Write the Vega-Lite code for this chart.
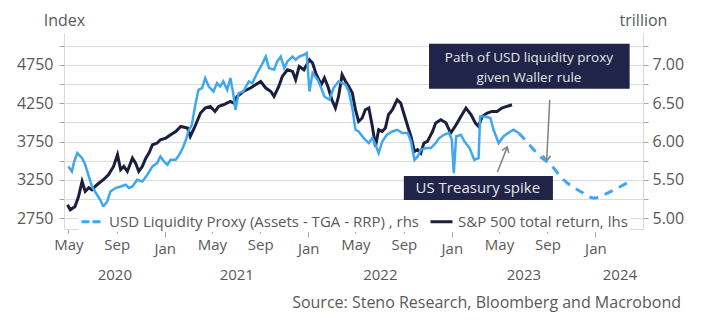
{
  "$schema": "https://vega.github.io/schema/vega-lite/v6.json",
  "width": 579,
  "height": 196,
  "autosize": {"type": "none"},
  "padding": {"left": 64, "top": 33, "right": 61, "bottom": 102},
  "background": "white",
  "config": {
    "view": {"stroke": null},
    "font": "Open Sans",
    "axis": {"labelFont": "Open Sans", "titleFont": "Open Sans"}
  },
  "title": {
    "text": "Source: Steno Research, Bloomberg and Macrobond",
    "orient": "bottom",
    "anchor": "end",
    "frame": "group",
    "dx": 38,
    "offset": 13,
    "fontSize": 16,
    "fontWeight": "normal",
    "color": "#595959",
    "font": "Open Sans"
  },
  "datasets": {
    "sp": [
      {"d": "2020-04-29", "v": 2926}, {"d": "2020-05-06", "v": 2861}, {"d": "2020-05-18", "v": 2904},
      {"d": "2020-05-27", "v": 3034}, {"d": "2020-06-05", "v": 3229}, {"d": "2020-06-13", "v": 3099},
      {"d": "2020-06-22", "v": 3147}, {"d": "2020-06-30", "v": 3121}, {"d": "2020-07-13", "v": 3187},
      {"d": "2020-07-29", "v": 3252}, {"d": "2020-08-11", "v": 3317}, {"d": "2020-08-24", "v": 3425},
      {"d": "2020-09-03", "v": 3577}, {"d": "2020-09-11", "v": 3382}, {"d": "2020-09-19", "v": 3425},
      {"d": "2020-09-28", "v": 3360}, {"d": "2020-10-11", "v": 3534}, {"d": "2020-10-19", "v": 3469},
      {"d": "2020-10-27", "v": 3360}, {"d": "2020-11-05", "v": 3425}, {"d": "2020-11-14", "v": 3534},
      {"d": "2020-11-22", "v": 3600}, {"d": "2020-12-01", "v": 3708}, {"d": "2020-12-13", "v": 3730},
      {"d": "2020-12-21", "v": 3773}, {"d": "2021-01-04", "v": 3795}, {"d": "2021-01-16", "v": 3838},
      {"d": "2021-01-29", "v": 3881}, {"d": "2021-02-11", "v": 3946}, {"d": "2021-02-28", "v": 3925},
      {"d": "2021-03-07", "v": 3816}, {"d": "2021-03-19", "v": 3946}, {"d": "2021-04-02", "v": 4121},
      {"d": "2021-04-14", "v": 4186}, {"d": "2021-04-27", "v": 4207}, {"d": "2021-05-09", "v": 4142},
      {"d": "2021-05-18", "v": 4207}, {"d": "2021-05-30", "v": 4229}, {"d": "2021-06-17", "v": 4272},
      {"d": "2021-06-25", "v": 4251}, {"d": "2021-07-04", "v": 4337}, {"d": "2021-07-20", "v": 4402},
      {"d": "2021-08-07", "v": 4447}, {"d": "2021-08-20", "v": 4490}, {"d": "2021-09-02", "v": 4532},
      {"d": "2021-09-15", "v": 4447}, {"d": "2021-09-28", "v": 4402}, {"d": "2021-10-06", "v": 4337},
      {"d": "2021-10-18", "v": 4467}, {"d": "2021-10-27", "v": 4598}, {"d": "2021-11-09", "v": 4685},
      {"d": "2021-11-22", "v": 4663}, {"d": "2021-11-30", "v": 4555}, {"d": "2021-12-09", "v": 4728},
      {"d": "2021-12-21", "v": 4685}, {"d": "2022-01-04", "v": 4815}, {"d": "2022-01-12", "v": 4772},
      {"d": "2022-01-20", "v": 4642}, {"d": "2022-02-03", "v": 4490}, {"d": "2022-02-11", "v": 4577},
      {"d": "2022-02-20", "v": 4467}, {"d": "2022-03-02", "v": 4294}, {"d": "2022-03-11", "v": 4186},
      {"d": "2022-03-19", "v": 4337}, {"d": "2022-03-28", "v": 4620}, {"d": "2022-04-06", "v": 4532},
      {"d": "2022-04-14", "v": 4467}, {"d": "2022-04-23", "v": 4381}, {"d": "2022-05-01", "v": 4164},
      {"d": "2022-05-09", "v": 4011}, {"d": "2022-05-18", "v": 4056}, {"d": "2022-05-26", "v": 4164},
      {"d": "2022-06-04", "v": 4186}, {"d": "2022-06-13", "v": 3946}, {"d": "2022-06-21", "v": 3686},
      {"d": "2022-06-29", "v": 3903}, {"d": "2022-07-08", "v": 3881}, {"d": "2022-07-16", "v": 3925},
      {"d": "2022-07-24", "v": 4099}, {"d": "2022-08-03", "v": 4164}, {"d": "2022-08-15", "v": 4294},
      {"d": "2022-08-24", "v": 4251}, {"d": "2022-09-02", "v": 4099}, {"d": "2022-09-11", "v": 3946},
      {"d": "2022-09-19", "v": 3816}, {"d": "2022-09-28", "v": 3620}, {"d": "2022-10-06", "v": 3643},
      {"d": "2022-10-14", "v": 3600}, {"d": "2022-10-22", "v": 3730}, {"d": "2022-10-31", "v": 3751},
      {"d": "2022-11-13", "v": 3881}, {"d": "2022-11-21", "v": 3990}, {"d": "2022-12-04", "v": 4033},
      {"d": "2022-12-17", "v": 3994}, {"d": "2022-12-29", "v": 3860}, {"d": "2023-01-12", "v": 3968},
      {"d": "2023-01-24", "v": 4076}, {"d": "2023-02-06", "v": 4186}, {"d": "2023-02-19", "v": 4099},
      {"d": "2023-03-02", "v": 3990}, {"d": "2023-03-10", "v": 3946}, {"d": "2023-03-19", "v": 4076},
      {"d": "2023-04-01", "v": 4121}, {"d": "2023-04-13", "v": 4142}, {"d": "2023-04-26", "v": 4142},
      {"d": "2023-05-08", "v": 4186}, {"d": "2023-05-21", "v": 4207}, {"d": "2023-06-03", "v": 4229}
    ],
    "liq": [
      {"d": "2020-05-01", "r": 5.675}, {"d": "2020-05-10", "r": 5.610}, {"d": "2020-05-16", "r": 5.740},
      {"d": "2020-05-24", "r": 5.850}, {"d": "2020-06-05", "r": 5.784}, {"d": "2020-06-13", "r": 5.697},
      {"d": "2020-06-22", "r": 5.545}, {"d": "2020-06-30", "r": 5.414}, {"d": "2020-07-13", "r": 5.306},
      {"d": "2020-07-21", "r": 5.241}, {"d": "2020-07-29", "r": 5.154}, {"d": "2020-08-08", "r": 5.219},
      {"d": "2020-08-16", "r": 5.349}, {"d": "2020-08-29", "r": 5.394}, {"d": "2020-09-11", "r": 5.414},
      {"d": "2020-09-24", "r": 5.437}, {"d": "2020-10-02", "r": 5.394}, {"d": "2020-10-11", "r": 5.414},
      {"d": "2020-10-23", "r": 5.502}, {"d": "2020-11-05", "r": 5.480}, {"d": "2020-11-18", "r": 5.567},
      {"d": "2020-12-01", "r": 5.675}, {"d": "2020-12-13", "r": 5.719}, {"d": "2020-12-21", "r": 5.805},
      {"d": "2020-12-30", "r": 5.740}, {"d": "2021-01-08", "r": 5.697}, {"d": "2021-01-16", "r": 5.762},
      {"d": "2021-01-29", "r": 5.762}, {"d": "2021-02-07", "r": 5.827}, {"d": "2021-02-16", "r": 5.915},
      {"d": "2021-02-24", "r": 6.023}, {"d": "2021-03-02", "r": 6.131}, {"d": "2021-03-11", "r": 6.218},
      {"d": "2021-03-19", "r": 6.457}, {"d": "2021-03-28", "r": 6.674}, {"d": "2021-04-06", "r": 6.697},
      {"d": "2021-04-14", "r": 6.827}, {"d": "2021-04-23", "r": 6.717}, {"d": "2021-05-05", "r": 6.652},
      {"d": "2021-05-14", "r": 6.762}, {"d": "2021-05-22", "r": 6.717}, {"d": "2021-05-30", "r": 6.783},
      {"d": "2021-06-09", "r": 6.674}, {"d": "2021-06-17", "r": 6.827}, {"d": "2021-06-24", "r": 6.631},
      {"d": "2021-06-30", "r": 6.414}, {"d": "2021-07-08", "r": 6.631}, {"d": "2021-07-20", "r": 6.652},
      {"d": "2021-08-03", "r": 6.783}, {"d": "2021-08-12", "r": 6.762}, {"d": "2021-08-24", "r": 6.892},
      {"d": "2021-09-07", "r": 7.022}, {"d": "2021-09-15", "r": 7.108}, {"d": "2021-09-23", "r": 6.957},
      {"d": "2021-10-06", "r": 6.935}, {"d": "2021-10-14", "r": 7.043}, {"d": "2021-10-23", "r": 7.108},
      {"d": "2021-11-01", "r": 6.957}, {"d": "2021-11-09", "r": 7.043}, {"d": "2021-11-22", "r": 7.108},
      {"d": "2021-11-30", "r": 7.065}, {"d": "2021-12-09", "r": 7.108}, {"d": "2021-12-21", "r": 7.130},
      {"d": "2021-12-28", "r": 7.153}, {"d": "2022-01-04", "r": 6.652}, {"d": "2022-01-12", "r": 6.892},
      {"d": "2022-01-25", "r": 6.805}, {"d": "2022-02-03", "r": 6.697}, {"d": "2022-02-11", "r": 6.587},
      {"d": "2022-02-24", "r": 6.544}, {"d": "2022-03-06", "r": 6.697}, {"d": "2022-03-19", "r": 6.783},
      {"d": "2022-03-28", "r": 6.762}, {"d": "2022-04-06", "r": 6.740}, {"d": "2022-04-14", "r": 6.652},
      {"d": "2022-04-23", "r": 6.436}, {"d": "2022-05-01", "r": 6.153}, {"d": "2022-05-09", "r": 6.131},
      {"d": "2022-05-22", "r": 6.045}, {"d": "2022-06-04", "r": 5.980}, {"d": "2022-06-13", "r": 6.045},
      {"d": "2022-06-21", "r": 5.958}, {"d": "2022-06-29", "r": 5.850}, {"d": "2022-07-08", "r": 6.001},
      {"d": "2022-07-20", "r": 6.088}, {"d": "2022-08-03", "r": 6.131}, {"d": "2022-08-15", "r": 6.153},
      {"d": "2022-08-28", "r": 6.110}, {"d": "2022-09-11", "r": 6.110}, {"d": "2022-09-19", "r": 6.001},
      {"d": "2022-09-28", "r": 5.762}, {"d": "2022-10-06", "r": 5.805}, {"d": "2022-10-14", "r": 5.893},
      {"d": "2022-10-27", "r": 5.915}, {"d": "2022-11-09", "r": 5.915}, {"d": "2022-11-21", "r": 5.980},
      {"d": "2022-11-30", "r": 6.045}, {"d": "2022-12-12", "r": 6.088}, {"d": "2022-12-25", "r": 6.114},
      {"d": "2023-01-01", "r": 6.023}, {"d": "2023-01-06", "r": 5.589}, {"d": "2023-01-12", "r": 6.066},
      {"d": "2023-01-24", "r": 6.088}, {"d": "2023-02-02", "r": 6.001}, {"d": "2023-02-15", "r": 5.915},
      {"d": "2023-02-27", "r": 5.762}, {"d": "2023-03-10", "r": 5.784}, {"d": "2023-03-14", "r": 6.326},
      {"d": "2023-03-27", "r": 6.326}, {"d": "2023-04-09", "r": 6.306}, {"d": "2023-04-17", "r": 6.153},
      {"d": "2023-04-30", "r": 5.980}, {"d": "2023-05-12", "r": 6.066}, {"d": "2023-05-30", "r": 6.131},
      {"d": "2023-06-07", "r": 6.153}, {"d": "2023-06-20", "r": 6.110}
    ],
    "fcst": [
      {"d": "2023-06-20", "r": 6.110}, {"d": "2023-07-02", "r": 6.045}, {"d": "2023-08-14", "r": 5.805},
      {"d": "2023-09-09", "r": 5.697}, {"d": "2023-10-12", "r": 5.502}, {"d": "2023-11-24", "r": 5.349},
      {"d": "2023-12-28", "r": 5.263}, {"d": "2024-02-01", "r": 5.328}, {"d": "2024-03-05", "r": 5.414},
      {"d": "2024-04-04", "r": 5.502}
    ],
    "boxes": [
      {"d1": "2022-11-04", "d2": "2024-03-28", "v1": 4437, "v2": 5025},
      {"d1": "2022-09-01", "d2": "2023-09-15", "v1": 2989, "v2": 3302}
    ],
    "pathText": [
      {"d": "2023-07-16", "v": 4842, "t": "Path of USD liquidity proxy"},
      {"d": "2023-07-16", "v": 4581, "t": "given Waller rule"}
    ],
    "spikeText": [
      {"d": "2023-03-08", "v": 3139, "t": "US Treasury spike"}
    ],
    "arrows": [
      {"d1": "2023-09-07", "v1": 4294, "d2": "2023-08-30", "v2": 3498},
      {"d1": "2023-04-27", "v1": 3354, "d2": "2023-05-22", "v2": 3680}
    ],
    "headDown": [{"d": "2023-08-30", "v": 3498}],
    "headUp": [{"d": "2023-05-22", "v": 3680}]
  },
  "layer": [
    {
      "data": {"name": "sp"},
      "mark": {"type": "line", "strokeWidth": 3},
      "encoding": {
        "x": {
          "field": "d", "type": "temporal",
          "scale": {"type": "utc", "domain": [{"year": 2020, "month": 4, "date": 20, "utc": true}, {"year": 2024, "month": 5, "date": 1, "utc": true}]},
          "axis": {
            "orient": "bottom",
            "values": [
              {"year": 2020, "month": 5, "date": 1, "utc": true}, {"year": 2020, "month": 9, "date": 1, "utc": true},
              {"year": 2021, "month": 1, "date": 1, "utc": true}, {"year": 2021, "month": 5, "date": 1, "utc": true},
              {"year": 2021, "month": 9, "date": 1, "utc": true}, {"year": 2022, "month": 1, "date": 1, "utc": true},
              {"year": 2022, "month": 5, "date": 1, "utc": true}, {"year": 2022, "month": 9, "date": 1, "utc": true},
              {"year": 2023, "month": 1, "date": 1, "utc": true}, {"year": 2023, "month": 5, "date": 1, "utc": true},
              {"year": 2023, "month": 9, "date": 1, "utc": true}, {"year": 2024, "month": 1, "date": 1, "utc": true}
            ],
            "labelExpr": "utcFormat(datum.value, '%b')",
            "grid": false,
            "domain": true,
            "domainColor": "#d9d9d9",
            "tickColor": "#a6a6a6",
            "tickSize": {"condition": {"test": "utcmonth(datum.value) == 0", "value": 8}, "value": 4},
            "labelPadding": 4,
            "labelFontSize": 15,
            "labelColor": "#595959",
            "labelFlush": false,
            "labelOverlap": false,
            "title": null
          }
        },
        "y": {
          "field": "v", "type": "quantitative",
          "scale": {"domain": [2610, 5164], "nice": false, "zero": false},
          "axis": {
            "orient": "left",
            "values": [2750, 3000, 3250, 3500, 3750, 4000, 4250, 4500, 4750, 5000],
            "labelExpr": "datum.value % 500 == 250 ? format(datum.value, 'd') : ''",
            "grid": true,
            "gridColor": "#dcdcdc",
            "domain": true,
            "domainColor": "#d9d9d9",
            "tickColor": "#a6a6a6",
            "tickSize": 5,
            "labelPadding": 6,
            "labelFontSize": 16,
            "labelColor": "#595959",
            "title": "Index",
            "titleAngle": 0,
            "titleX": 0,
            "titleY": -8,
            "titleAlign": "center",
            "titleBaseline": "alphabetic",
            "titleFontSize": 16,
            "titleFontWeight": "normal",
            "titleColor": "#595959"
          }
        },
        "color": {
          "datum": "S&P 500 total return, lhs",
          "type": "nominal",
          "scale": {"domain": ["USD Liquidity Proxy (Assets - TGA - RRP) , rhs", "S&P 500 total return, lhs"], "range": ["#3fa6f2", "#1b1e3c"]},
          "legend": {
            "orient": "none",
            "legendX": 14,
            "legendY": 174,
            "direction": "horizontal",
            "title": null,
            "fillColor": "white",
            "padding": 2,
            "symbolType": "stroke",
            "symbolSize": 484,
            "symbolStrokeWidth": 3,
            "labelFontSize": 15,
            "labelColor": "#595959",
            "labelFont": "Open Sans",
            "labelLimit": 600,
            "columnPadding": 4,
            "encode": {"symbols": {"update": {"strokeDash": {"signal": "datum.index == 0 ? [8, 3] : [1, 0]"}}}}
          }
        }
      }
    },
    {
      "data": {"name": "boxes"},
      "mark": {"type": "rect", "fill": "#1f2448"},
      "encoding": {
        "x": {"field": "d1", "type": "temporal", "scale": {"type": "utc", "domain": [{"year": 2020, "month": 4, "date": 20, "utc": true}, {"year": 2024, "month": 5, "date": 1, "utc": true}]}, "axis": null},
        "x2": {"field": "d2"},
        "y": {"field": "v1", "type": "quantitative", "scale": {"domain": [2610, 5164], "nice": false, "zero": false}, "axis": null},
        "y2": {"field": "v2"}
      }
    },
    {
      "data": {"name": "pathText"},
      "mark": {"type": "text", "color": "#e6e6e6", "fontSize": 13.5, "font": "Open Sans", "align": "center", "baseline": "middle"},
      "encoding": {
        "x": {"field": "d", "type": "temporal", "scale": {"type": "utc", "domain": [{"year": 2020, "month": 4, "date": 20, "utc": true}, {"year": 2024, "month": 5, "date": 1, "utc": true}]}, "axis": null},
        "y": {"field": "v", "type": "quantitative", "scale": {"domain": [2610, 5164], "nice": false, "zero": false}, "axis": null},
        "text": {"field": "t"}
      }
    },
    {
      "data": {"name": "spikeText"},
      "mark": {"type": "text", "color": "#e6e6e6", "fontSize": 15, "font": "Open Sans", "align": "center", "baseline": "middle"},
      "encoding": {
        "x": {"field": "d", "type": "temporal", "scale": {"type": "utc", "domain": [{"year": 2020, "month": 4, "date": 20, "utc": true}, {"year": 2024, "month": 5, "date": 1, "utc": true}]}, "axis": null},
        "y": {"field": "v", "type": "quantitative", "scale": {"domain": [2610, 5164], "nice": false, "zero": false}, "axis": null},
        "text": {"field": "t"}
      }
    },
    {
      "data": {"name": "arrows"},
      "mark": {"type": "rule", "color": "#808080", "strokeWidth": 1.5},
      "encoding": {
        "x": {"field": "d1", "type": "temporal", "scale": {"type": "utc", "domain": [{"year": 2020, "month": 4, "date": 20, "utc": true}, {"year": 2024, "month": 5, "date": 1, "utc": true}]}, "axis": null},
        "x2": {"field": "d2"},
        "y": {"field": "v1", "type": "quantitative", "scale": {"domain": [2610, 5164], "nice": false, "zero": false}, "axis": null},
        "y2": {"field": "v2"}
      }
    },
    {
      "data": {"name": "headDown"},
      "mark": {"type": "point", "shape": "M -0.7 -1 L 0 0 L 0.7 -1", "filled": false, "stroke": "#808080", "strokeWidth": 1.5, "size": 110, "angle": 3, "opacity": 1},
      "encoding": {
        "x": {"field": "d", "type": "temporal", "scale": {"type": "utc", "domain": [{"year": 2020, "month": 4, "date": 20, "utc": true}, {"year": 2024, "month": 5, "date": 1, "utc": true}]}, "axis": null},
        "y": {"field": "v", "type": "quantitative", "scale": {"domain": [2610, 5164], "nice": false, "zero": false}, "axis": null}
      }
    },
    {
      "data": {"name": "headUp"},
      "mark": {"type": "point", "shape": "M -0.7 1 L 0 0 L 0.7 1", "filled": false, "stroke": "#808080", "strokeWidth": 1.5, "size": 110, "angle": 22, "opacity": 1},
      "encoding": {
        "x": {"field": "d", "type": "temporal", "scale": {"type": "utc", "domain": [{"year": 2020, "month": 4, "date": 20, "utc": true}, {"year": 2024, "month": 5, "date": 1, "utc": true}]}, "axis": null},
        "y": {"field": "v", "type": "quantitative", "scale": {"domain": [2610, 5164], "nice": false, "zero": false}, "axis": null}
      }
    },
    {
      "data": {"name": "liq"},
      "mark": {"type": "line", "strokeWidth": 2.5},
      "encoding": {
        "x": {
          "field": "d", "type": "temporal",
          "scale": {"type": "utc", "domain": [{"year": 2020, "month": 4, "date": 20, "utc": true}, {"year": 2024, "month": 5, "date": 1, "utc": true}]},
          "axis": {
            "orient": "bottom",
            "values": [
              {"year": 2020, "month": 8, "date": 26, "utc": true}, {"year": 2021, "month": 7, "date": 2, "utc": true},
              {"year": 2022, "month": 7, "date": 2, "utc": true}, {"year": 2023, "month": 7, "date": 2, "utc": true},
              {"year": 2024, "month": 3, "date": 2, "utc": true}
            ],
            "labelExpr": "utcFormat(datum.value, '%Y')",
            "grid": false,
            "domain": false,
            "ticks": false,
            "tickSize": 0,
            "labelPadding": 38,
            "labelFontSize": 15,
            "labelColor": "#595959",
            "labelFlush": false,
            "labelOverlap": false,
            "title": null
          }
        },
        "y": {
          "field": "r", "type": "quantitative",
          "scale": {"domain": [4.86, 7.414], "nice": false, "zero": false},
          "axis": {
            "orient": "right",
            "values": [5, 5.25, 5.5, 5.75, 6, 6.25, 6.5, 6.75, 7, 7.25],
            "labelExpr": "round(datum.value * 100) % 50 == 0 ? format(datum.value, '.2f') : ''",
            "grid": false,
            "domain": true,
            "domainColor": "#d9d9d9",
            "tickColor": "#a6a6a6",
            "tickSize": 5,
            "labelPadding": 4,
            "labelFontSize": 16,
            "labelColor": "#595959",
            "title": "trillion",
            "titleAngle": 0,
            "titleX": 0,
            "titleY": -8,
            "titleAlign": "center",
            "titleBaseline": "alphabetic",
            "titleFontSize": 16,
            "titleFontWeight": "normal",
            "titleColor": "#595959"
          }
        },
        "color": {"datum": "USD Liquidity Proxy (Assets - TGA - RRP) , rhs", "type": "nominal"}
      }
    },
    {
      "data": {"name": "fcst"},
      "mark": {"type": "line", "strokeWidth": 3, "strokeDash": [9, 7], "interpolate": "monotone"},
      "encoding": {
        "x": {"field": "d", "type": "temporal", "scale": {"type": "utc", "domain": [{"year": 2020, "month": 4, "date": 20, "utc": true}, {"year": 2024, "month": 5, "date": 1, "utc": true}]}, "axis": null},
        "y": {"field": "r", "type": "quantitative", "scale": {"domain": [4.86, 7.414], "nice": false, "zero": false}, "axis": null},
        "color": {"datum": "USD Liquidity Proxy (Assets - TGA - RRP) , rhs", "type": "nominal"}
      }
    }
  ],
  "resolve": {"scale": {"y": "independent"}, "axis": {"x": "independent", "y": "independent"}}
}
